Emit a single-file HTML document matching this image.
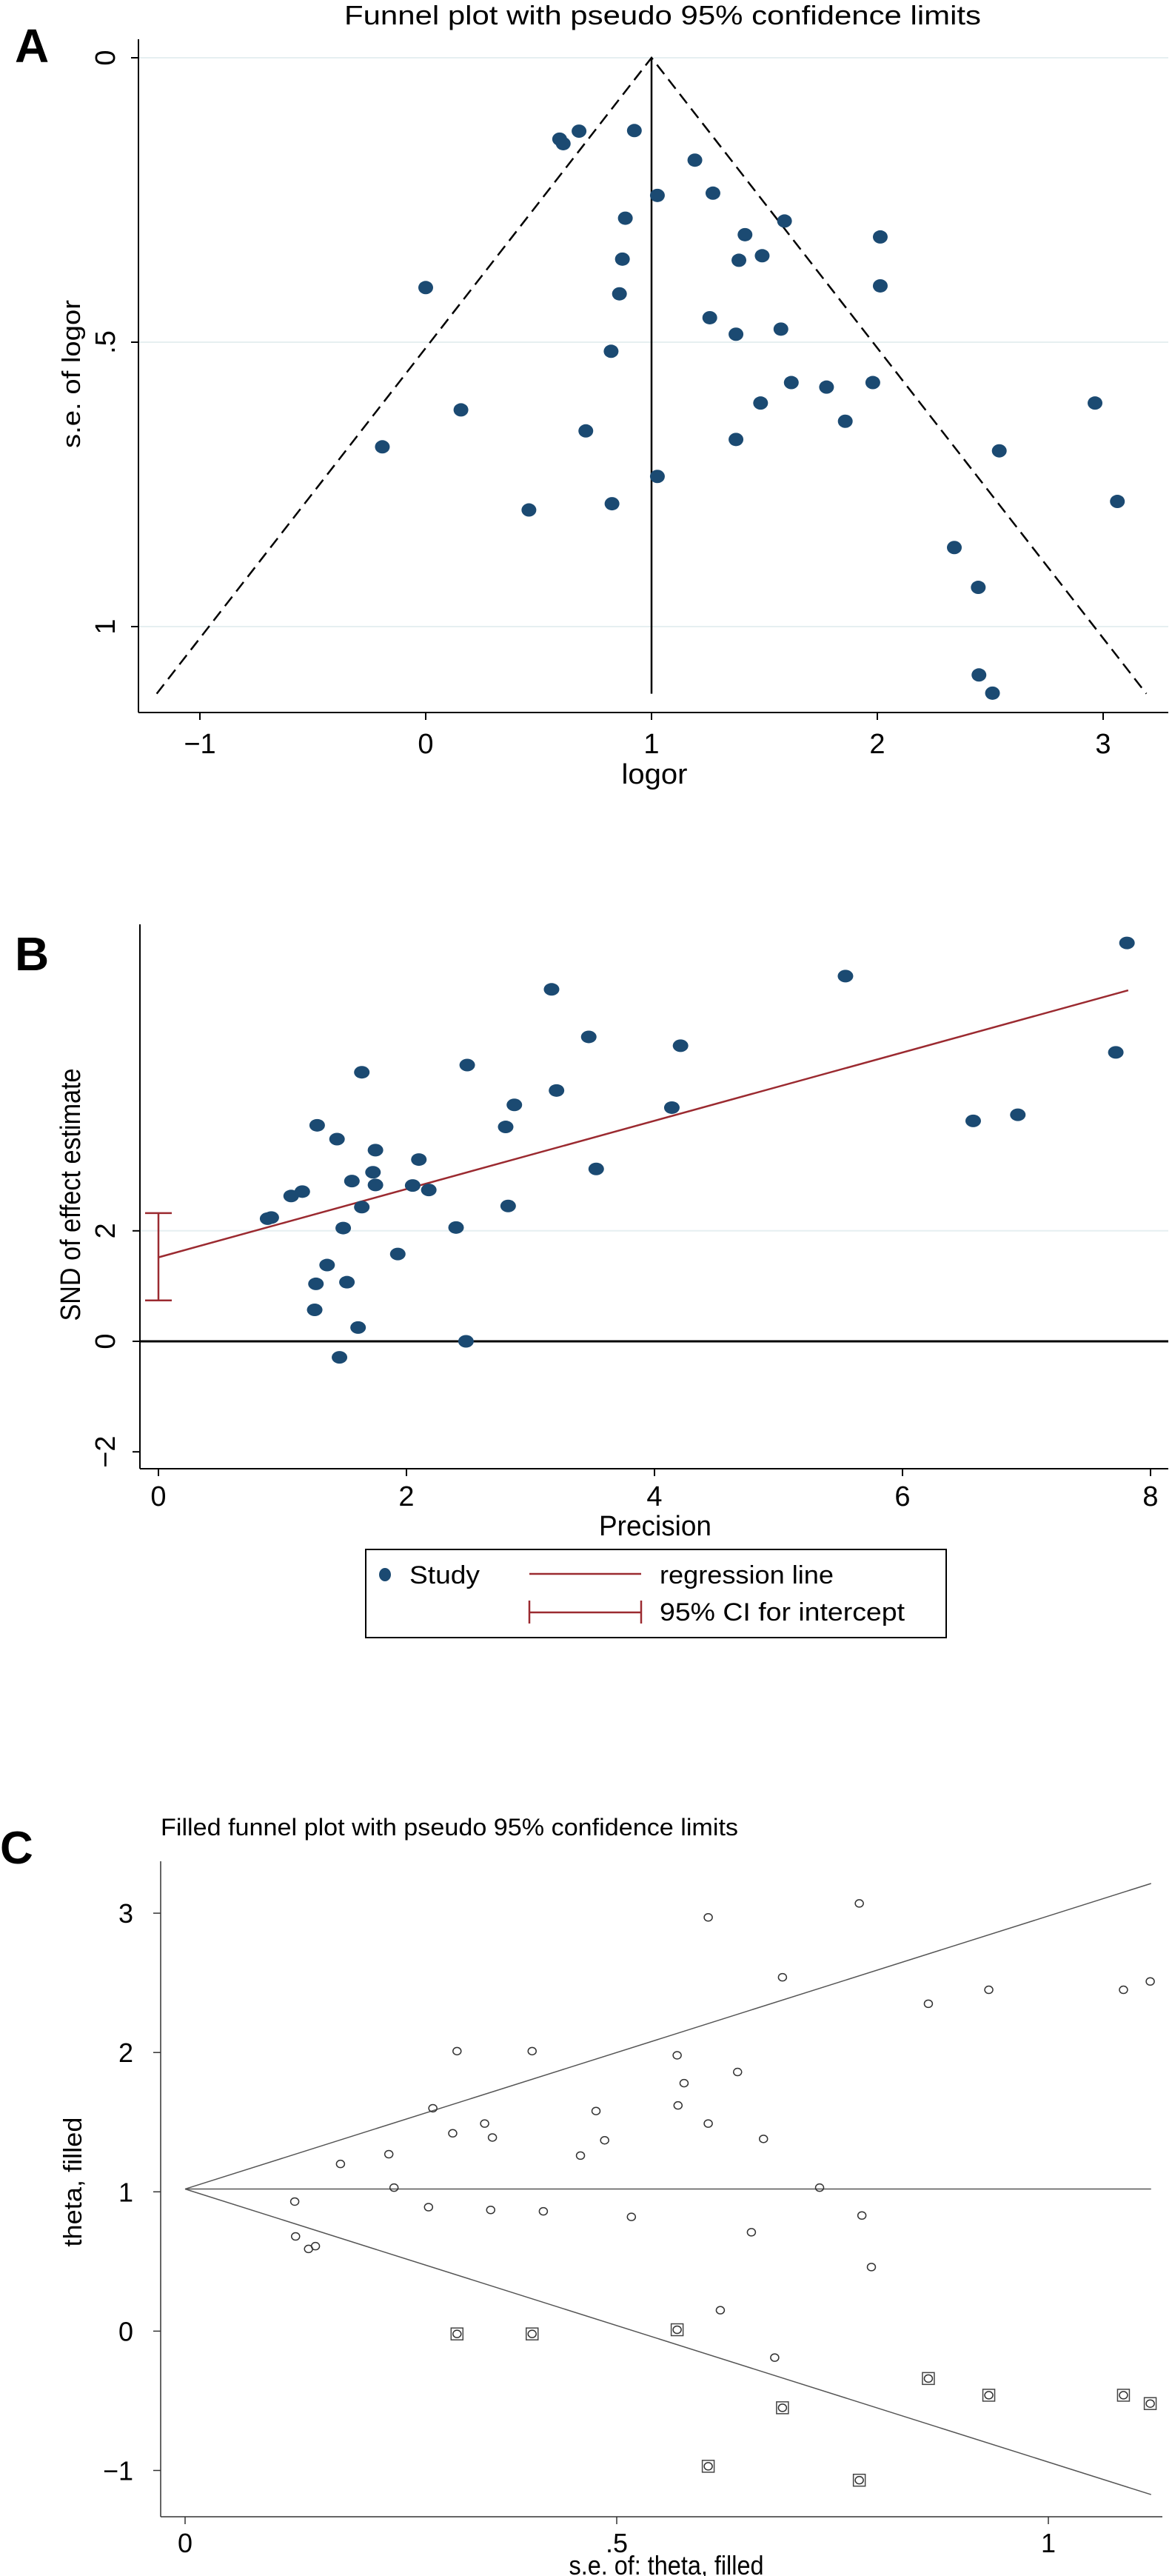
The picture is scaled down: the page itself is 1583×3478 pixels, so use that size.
<!DOCTYPE html>
<html><head><meta charset="utf-8"><title>Funnel plots</title>
<style>
html,body{margin:0;padding:0;background:#fff;}
svg{display:block;font-family:"Liberation Sans",sans-serif;}
</style></head>
<body>
<svg id="fig" xmlns="http://www.w3.org/2000/svg" width="1583" height="3478" viewBox="0 0 1583 3478">
<rect x="0" y="0" width="1583" height="3478" fill="#fff"/>
<g id="pa">
<text x="20" y="84" font-size="64" font-weight="bold">A</text>
<text x="465" y="33" font-size="36" textLength="860" lengthAdjust="spacingAndGlyphs">Funnel plot with pseudo 95% confidence limits</text>
<text transform="translate(108,505) rotate(-90)" font-size="34" text-anchor="middle" textLength="200" lengthAdjust="spacingAndGlyphs">s.e. of logor</text>
<text x="884" y="1058" font-size="38" text-anchor="middle" textLength="89" lengthAdjust="spacingAndGlyphs">logor</text>
</g>
<g id="pb">
<text x="20" y="1310" font-size="64" font-weight="bold">B</text>
<text transform="translate(108,1613) rotate(-90)" font-size="38" text-anchor="middle" textLength="341" lengthAdjust="spacingAndGlyphs">SND of effect estimate</text>
<text x="885" y="2073" font-size="38" text-anchor="middle" textLength="152" lengthAdjust="spacingAndGlyphs">Precision</text>
<g>
<rect x="494" y="2092" width="784" height="119" fill="#fff" stroke="#000" stroke-width="2"/>
<ellipse cx="520" cy="2126" rx="8" ry="9" fill="#1b4a72"/>
<text x="553" y="2138" font-size="34" textLength="95" lengthAdjust="spacingAndGlyphs">Study</text>
<line x1="715" y1="2125" x2="866" y2="2125" stroke="#9b2a30" stroke-width="2.5"/>
<text x="891" y="2138" font-size="34" textLength="235" lengthAdjust="spacingAndGlyphs">regression line</text>
<g stroke="#9b2a30" stroke-width="2.5">
<line x1="715" y1="2177" x2="866" y2="2177"/><line x1="715" y1="2161" x2="715" y2="2192"/><line x1="866" y1="2161" x2="866" y2="2192"/></g>
<text x="891" y="2188" font-size="34" textLength="331" lengthAdjust="spacingAndGlyphs">95% CI for intercept</text>
</g>
</g>
<g id="pc">
<text x="0" y="2516" font-size="62" font-weight="bold">C</text>
<text x="217" y="2478" font-size="32" textLength="780" lengthAdjust="spacingAndGlyphs">Filled funnel plot with pseudo 95% confidence limits</text>
<text transform="translate(110,2946) rotate(-90)" font-size="34" text-anchor="middle" textLength="175" lengthAdjust="spacingAndGlyphs">theta, filled</text>
<text x="900" y="3476" font-size="36" text-anchor="middle" textLength="263" lengthAdjust="spacingAndGlyphs">s.e. of: theta, filled</text>
</g>
</svg>
<script>
// ---- Panel A data ----
const aLogor = [0.593,0.609,0.679,0.924,1.192,1.026,1.272,0.884,1.589,1.414,2.013,0.871,1.387,1.490,0.000,2.013,0.858,1.258,1.374,1.573,0.821,1.619,1.775,1.980,1.483,2.964,0.156,1.858,0.709,1.374,-0.192,2.540,1.026,3.063,0.825,0.457,2.341,2.447,2.450,2.510];
const aSe = [0.143,0.151,0.129,0.128,0.180,0.242,0.238,0.282,0.287,0.311,0.315,0.354,0.356,0.348,0.404,0.401,0.415,0.457,0.486,0.477,0.516,0.571,0.579,0.571,0.607,0.607,0.619,0.639,0.656,0.671,0.684,0.691,0.736,0.780,0.784,0.795,0.861,0.931,1.085,1.117];
const aXTicks = [-1,0,1,2,3];
const aXTickLabels = ["\u22121","0","1","2","3"];
const aYTicks = [0,0.5,1];
const aYTickLabels = ["0",".5","1"];
const aPooled = [1.0];
const aSeMax = [1.118];
// ---- Panel B data ----
const bPrecision = [7.81,5.54,3.17,3.47,4.21,7.72,2.49,1.64,3.21,2.87,4.14,6.57,6.93,1.28,2.80,1.44,1.75,2.10,3.53,1.73,1.56,1.75,2.05,2.18,1.16,1.07,1.64,2.82,0.91,0.88,1.49,2.40,1.93,1.36,1.27,1.52,1.26,1.61,2.48,1.46];
const bSnd = [7.21,6.61,6.37,5.51,5.35,5.23,5.00,4.87,4.54,4.28,4.23,3.99,4.10,3.91,3.88,3.66,3.46,3.29,3.12,3.06,2.90,2.83,2.82,2.74,2.71,2.63,2.43,2.45,2.24,2.22,2.05,2.06,1.58,1.38,1.04,1.07,0.57,0.25,0.00,-0.29];
const bXTicks = [0,2,4,6,8];
const bXTickLabels = ["0","2","4","6","8"];
const bYTicks = [-2,0,2];
const bYTickLabels = ["\u22122","0","2"];
const bRegIntercept = [1.52];
const bRegSlope = [0.618];
const bRegXMax = [7.82];
const bCi = [0.74,2.32];
// ---- Panel C data ----
const cSe = [0.606,0.781,0.692,0.931,0.861,1.087,1.118,0.315,0.402,0.570,0.640,0.578,0.287,0.476,0.571,0.347,0.606,0.310,0.356,0.486,0.670,0.236,0.458,0.180,0.242,0.735,0.127,0.282,0.354,0.415,0.517,0.784,0.656,0.128,0.151,0.143,0.795,0.620,0.683];
const cTheta = [2.97,3.07,2.54,2.45,2.35,2.45,2.51,2.01,2.01,1.98,1.86,1.78,1.60,1.58,1.62,1.49,1.49,1.42,1.39,1.37,1.38,1.27,1.26,1.20,1.03,1.03,0.93,0.89,0.87,0.86,0.82,0.83,0.71,0.68,0.61,0.59,0.46,0.15,-0.19];
const cFillSe = [0.315,0.402,0.570,0.861,0.931,1.087,1.118,0.692,0.606,0.781];
const cFillTheta = [-0.02,-0.02,0.01,-0.34,-0.46,-0.46,-0.52,-0.55,-0.97,-1.07];
const cXTicks = [0,0.5,1];
const cXTickLabels = ["0",".5","1"];
const cYTicks = [-1,0,1,2,3];
const cYTickLabels = ["\u22121","0","1","2","3"];
const cPooled = [1.02];
const cSeMax = [1.119];

const NS="http://www.w3.org/2000/svg";
function mk(parent, tag, attrs){const e=document.createElementNS(NS,tag);for(const k in attrs)e.setAttribute(k,attrs[k]);parent.appendChild(e);return e;}

// ===== Panel A =====
(function(){
const g=document.getElementById('pa');
const ax=v=>575+v*305, ay=s=>78+s*768;
aYTicks.forEach((t,i)=>{
  const gl=mk(g,'line',{x1:187,x2:1578,y1:ay(t),y2:ay(t),stroke:'#e6eff1','stroke-width':2});
  
  
  const tk=mk(g,'line',{x1:177,x2:187,y1:ay(t),y2:ay(t),stroke:'#000','stroke-width':2});
  
  
  const tl=mk(g,'text',{transform:`translate(155,${ay(t)}) rotate(-90)`,'font-size':38,'text-anchor':'middle'});
  tl.textContent=aYTickLabels[i];
  
  
});
aXTicks.forEach((t,i)=>{
  const tk=mk(g,'line',{x1:ax(t),x2:ax(t),y1:962,y2:972,stroke:'#000','stroke-width':2});
  
  
  const tl=mk(g,'text',{x:ax(t),y:1017,'font-size':38,'text-anchor':'middle'});
  tl.textContent=aXTickLabels[i];
  
  
});
const yax=mk(g,'line',{x1:187,x2:187,y1:53,y2:962,stroke:'#000','stroke-width':2});


const xax=mk(g,'line',{x1:187,x2:1578,y1:962,y2:962,stroke:'#000','stroke-width':2});


const p=aPooled[0], sm=aSeMax[0];
const fl=mk(g,'polyline',{points:`${ax(p-1.96*sm)},${ay(sm)} ${ax(p)},${ay(0)} ${ax(p+1.96*sm)},${ay(sm)}`,fill:'none',stroke:'#000','stroke-width':2.5,'stroke-dasharray':'16,9'});


const vl=mk(g,'line',{x1:ax(p),x2:ax(p),y1:ay(0),y2:ay(sm),stroke:'#000','stroke-width':2.5});


aLogor.forEach((v,i)=>{
  const c=mk(g,'ellipse',{cx:ax(v),cy:ay(aSe[i]),rx:10,ry:9,fill:'#1b4a72'});
  
  
});
})();

// ===== Panel B =====
(function(){
const g=document.getElementById('pb');
const bx=v=>214+v*167.5, by=s=>1811-s*74.6;
const gl=mk(g,'line',{x1:189,x2:1578,y1:by(2),y2:by(2),stroke:'#e6eff1','stroke-width':2});


bYTicks.forEach((t,i)=>{
  const tk=mk(g,'line',{x1:179,x2:189,y1:by(t),y2:by(t),stroke:'#000','stroke-width':2});
  
  
  const tl=mk(g,'text',{transform:`translate(155,${by(t)}) rotate(-90)`,'font-size':38,'text-anchor':'middle'});
  tl.textContent=bYTickLabels[i];
  
  
});
bXTicks.forEach((t,i)=>{
  const tk=mk(g,'line',{x1:bx(t),x2:bx(t),y1:1983,y2:1993,stroke:'#000','stroke-width':2});
  
  
  const tl=mk(g,'text',{x:bx(t),y:2033,'font-size':38,'text-anchor':'middle'});
  tl.textContent=bXTickLabels[i];
  
  
});
const yax=mk(g,'line',{x1:189,x2:189,y1:1248,y2:1983,stroke:'#000','stroke-width':2});


const xax=mk(g,'line',{x1:189,x2:1578,y1:1983,y2:1983,stroke:'#000','stroke-width':2});


const zl=mk(g,'line',{x1:189,x2:1578,y1:by(0),y2:by(0),stroke:'#000','stroke-width':3});


const b0=bRegIntercept[0], b1=bRegSlope[0], xm=bRegXMax[0];
const rl=mk(g,'line',{x1:bx(0),y1:by(b0),x2:bx(xm),y2:by(b0+b1*xm),stroke:'#9b2a30','stroke-width':2.5});


const ci=mk(g,'g',{stroke:'#9b2a30','stroke-width':2.5});


mk(ci,'line',{x1:bx(0),x2:bx(0),y1:by(bCi[0]),y2:by(bCi[1])});
mk(ci,'line',{x1:bx(0)-18,x2:bx(0)+18,y1:by(bCi[0]),y2:by(bCi[0])});
mk(ci,'line',{x1:bx(0)-18,x2:bx(0)+18,y1:by(bCi[1]),y2:by(bCi[1])});
bPrecision.forEach((v,i)=>{
  const c=mk(g,'ellipse',{cx:bx(v),cy:by(bSnd[i]),rx:10.5,ry:8.5,fill:'#1b4a72'});
  
  
});
})();

// ===== Panel C =====
(function(){
const g=document.getElementById('pc');
const cx=v=>250+v*1166, cy=t=>3147.4-t*188.1;
cYTicks.forEach((t,i)=>{
  const tk=mk(g,'line',{x1:207,x2:217,y1:cy(t),y2:cy(t),stroke:'#333','stroke-width':1.5});
  
  
  const tl=mk(g,'text',{x:180,y:cy(t)+13,'font-size':36,'text-anchor':'end'});
  tl.textContent=cYTickLabels[i];
  
  
});
cXTicks.forEach((t,i)=>{
  const tk=mk(g,'line',{x1:cx(t),x2:cx(t),y1:3398,y2:3408,stroke:'#333','stroke-width':1.5});
  
  
  const tl=mk(g,'text',{x:cx(t),y:3446,'font-size':36,'text-anchor':'middle'});
  tl.textContent=cXTickLabels[i];
  
  
});
const yax=mk(g,'line',{x1:217,x2:217,y1:2513,y2:3398,stroke:'#333','stroke-width':1.5});


const xax=mk(g,'line',{x1:217,x2:1570,y1:3398,y2:3398,stroke:'#333','stroke-width':1.5});


const p=cPooled[0], sm=cSeMax[0];
const up=mk(g,'line',{x1:cx(0),y1:cy(p),x2:cx(sm),y2:cy(p+1.96*sm),stroke:'#555','stroke-width':1.5});


const lo=mk(g,'line',{x1:cx(0),y1:cy(p),x2:cx(sm),y2:cy(p-1.96*sm),stroke:'#555','stroke-width':1.5});


const md=mk(g,'line',{x1:cx(0),y1:cy(p),x2:cx(sm),y2:cy(p),stroke:'#555','stroke-width':1.5});


cFillSe.forEach((v,i)=>{
  const s=mk(g,'rect',{x:cx(v)-8,y:cy(cFillTheta[i])-8,width:16,height:16,fill:'none',stroke:'#444','stroke-width':1.5});
  
  
  const c=mk(g,'ellipse',{cx:cx(v),cy:cy(cFillTheta[i]),rx:5.5,ry:5,fill:'none',stroke:'#333','stroke-width':1.5});
  
  
});
cSe.forEach((v,i)=>{
  const c=mk(g,'ellipse',{cx:cx(v),cy:cy(cTheta[i]),rx:5.5,ry:5,fill:'none',stroke:'#333','stroke-width':1.5});
  
  
});
})();
</script>
</body></html>
